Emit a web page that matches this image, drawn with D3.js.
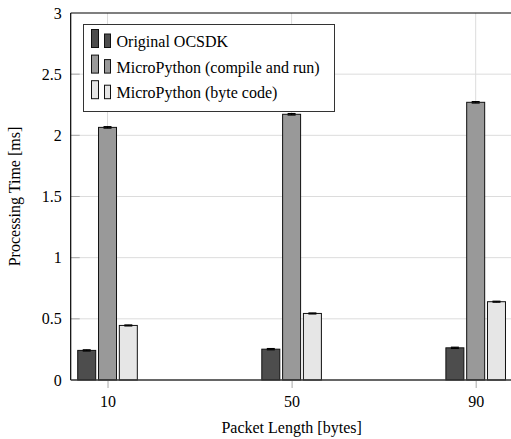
<!DOCTYPE html>
<html>
<head>
<meta charset="utf-8">
<script src="https://cdn.jsdelivr.net/npm/d3@7"></script>
<style>
  body { margin: 0; background: #fff; }
  svg text { font-family: "Liberation Serif", "Times New Roman", serif; fill: #000; }
</style>
</head>
<body>
<div id="vis"></div>
<script>
// data
const packetLengths = [10, 50, 90];
const seriesNames = ["Original OCSDK", "MicroPython (compile and run)", "MicroPython (byte code)"];
const originalOcsdk = [0.242, 0.252, 0.263];
const compileAndRun = [2.065, 2.172, 2.27];
const byteCode = [0.446, 0.544, 0.64];
const originalErr = [0.005, 0.005, 0.005];
const compileErr = [0.006, 0.006, 0.006];
const byteCodeErr = [0.004, 0.004, 0.004];
const yTicks = [0, 0.5, 1, 1.5, 2, 2.5, 3];

const seriesValues = [originalOcsdk, compileAndRun, byteCode];
const seriesErrors = [originalErr, compileErr, byteCodeErr];
const COLORS = ["#4d4d4d", "#999999", "#e6e6e6"];

// frame
const FRAME_WIDTH = 511;
const FRAME_HEIGHT = 439;
const MARGINS = {left: 70.7, right: -1.5, top: 13, bottom: 59};
const FONT = "Liberation Serif, Times New Roman, serif";

const svg = d3.select("#vis")
              .append("svg")
              .attr("width", FRAME_WIDTH)
              .attr("height", FRAME_HEIGHT);

const X_SCALE = d3.scaleLinear()
                  .domain([2, 98])
                  .range([MARGINS.left, FRAME_WIDTH - MARGINS.right]);

const Y_SCALE = d3.scaleLinear()
                  .domain([0, 3])
                  .range([FRAME_HEIGHT - MARGINS.bottom, MARGINS.top]);

// offset of each series inside a group
const OFFSET = d3.scaleBand()
                 .domain(d3.range(seriesNames.length))
                 .range([-30.3, 30.3])
                 .paddingInner(0.087);

const x0 = X_SCALE.range()[0], x1 = X_SCALE.range()[1];
const y0 = Y_SCALE.range()[0], y1 = Y_SCALE.range()[1];

// grid
svg.append("g")
   .selectAll("line")
   .data(yTicks.slice(1, -1))
   .join("line")
     .attr("x1", x0).attr("x2", x1)
     .attr("y1", d => Y_SCALE(d)).attr("y2", d => Y_SCALE(d))
     .attr("stroke", "#dcdcdc")
     .attr("stroke-width", 1);

svg.append("g")
   .selectAll("line")
   .data(packetLengths)
   .join("line")
     .attr("x1", d => X_SCALE(d)).attr("x2", d => X_SCALE(d))
     .attr("y1", y0).attr("y2", y1)
     .attr("stroke", "#dcdcdc")
     .attr("stroke-width", 1);

// y ticks (inside)
svg.append("g")
   .selectAll("line")
   .data(yTicks.slice(1, -1))
   .join("line")
     .attr("x1", x0).attr("x2", x0 + 9)
     .attr("y1", d => Y_SCALE(d)).attr("y2", d => Y_SCALE(d))
     .attr("stroke", "#a8a8a8")
     .attr("stroke-width", 1);

// bars
seriesValues.forEach((vals, s) => {
  const g = svg.append("g");
  g.selectAll("rect")
   .data(vals)
   .join("rect")
     .attr("x", (d, i) => X_SCALE(packetLengths[i]) + OFFSET(s) + 0.5)
     .attr("y", d => Y_SCALE(d))
     .attr("width", OFFSET.bandwidth() - 1)
     .attr("height", d => y0 - Y_SCALE(d))
     .attr("fill", COLORS[s])
     .attr("stroke", "#111")
     .attr("stroke-width", 1);

  // error bars
  const errs = seriesErrors[s];
  const cx = i => X_SCALE(packetLengths[i]) + OFFSET(s) + OFFSET.bandwidth() / 2;
  g.selectAll(".err")
   .data(vals)
   .join("line")
     .attr("class", "err")
     .attr("x1", (d, i) => cx(i)).attr("x2", (d, i) => cx(i))
     .attr("y1", (d, i) => Y_SCALE(d - errs[i])).attr("y2", (d, i) => Y_SCALE(d + errs[i]))
     .attr("stroke", "#000").attr("stroke-width", 1);
  ["top", "bot"].forEach(k => {
    g.selectAll(".cap-" + k)
     .data(vals)
     .join("line")
       .attr("class", "cap-" + k)
       .attr("x1", (d, i) => cx(i) - 4).attr("x2", (d, i) => cx(i) + 4)
       .attr("y1", (d, i) => Y_SCALE(k === "top" ? d + errs[i] : d - errs[i]))
       .attr("y2", (d, i) => Y_SCALE(k === "top" ? d + errs[i] : d - errs[i]))
       .attr("stroke", "#000").attr("stroke-width", 1.2);
  });
});

// axes frame
svg.append("line")
   .attr("x1", x0).attr("x2", x1).attr("y1", y1).attr("y2", y1)
   .attr("stroke", "#000").attr("stroke-width", 1.2);
svg.append("line")
   .attr("x1", x0).attr("x2", x0).attr("y1", y1).attr("y2", y0)
   .attr("stroke", "#000").attr("stroke-width", 1.2);
svg.append("line")
   .attr("x1", x0).attr("x2", x1).attr("y1", y0).attr("y2", y0)
   .attr("stroke", "#333").attr("stroke-width", 1.6);

// x axis
const xAxis = svg.append("g")
   .attr("transform", "translate(0," + y0 + ")")
   .call(d3.axisBottom(X_SCALE).tickValues(packetLengths).tickSize(7).tickPadding(9).tickSizeOuter(0));
xAxis.select(".domain").remove();
xAxis.selectAll(".tick line").attr("stroke", "#a8a8a8").attr("transform", "translate(0,1)");
xAxis.attr("font-family", FONT).attr("font-size", 16);

// y axis
const yAxis = svg.append("g")
   .attr("transform", "translate(" + x0 + ",0)")
   .call(d3.axisLeft(Y_SCALE).tickValues(yTicks).tickFormat(d => String(d)).tickSize(0).tickPadding(9));
yAxis.select(".domain").remove();
yAxis.attr("font-family", FONT).attr("font-size", 16);

// axis labels
svg.append("text")
   .attr("x", X_SCALE(50))
   .attr("y", 433)
   .attr("text-anchor", "middle")
   .attr("font-size", "16px")
   .text("Packet Length [bytes]");

svg.append("text")
   .attr("transform", "translate(20," + ((y0 + y1) / 2) + ") rotate(-90)")
   .attr("text-anchor", "middle")
   .attr("font-size", "16px")
   .text("Processing Time [ms]");

// legend
const legend = svg.append("g");
legend.append("rect")
   .attr("x", 83.5).attr("y", 24.5)
   .attr("width", 251).attr("height", 87)
   .attr("fill", "#fff")
   .attr("stroke", "#333").attr("stroke-width", 1);

const rows = legend.selectAll(".row")
   .data(seriesNames)
   .join("g")
     .attr("class", "row")
     .attr("transform", (d, i) => "translate(0," + (47.5 + i * 25.6) + ")");
rows.append("rect")
   .attr("x", 91.5).attr("y", -18).attr("width", 7).attr("height", 18)
   .attr("fill", (d, i) => COLORS[i]).attr("stroke", "#111");
rows.append("rect")
   .attr("x", 104.5).attr("y", -13.5).attr("width", 6).attr("height", 13.5)
   .attr("fill", (d, i) => COLORS[i]).attr("stroke", "#111");
rows.append("text")
   .attr("x", 116.5).attr("y", -0.5)
   .attr("font-size", "16px")
   .text(d => d);
</script>
</body>
</html>
